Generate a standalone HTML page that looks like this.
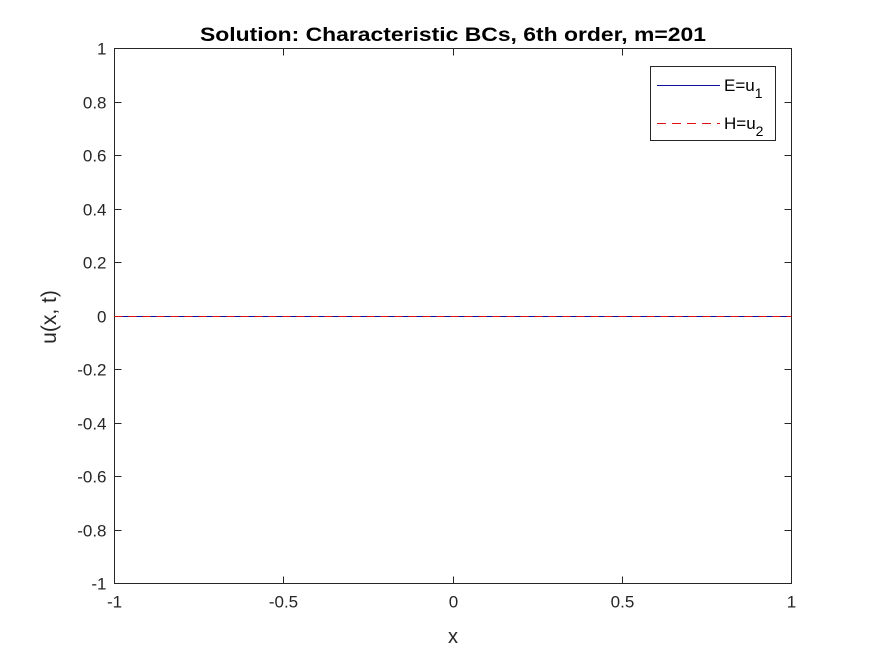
<!DOCTYPE html>
<html><head><meta charset="utf-8"><style>
html,body{margin:0;padding:0;background:#fff;}
svg text{font-family:"Liberation Sans",Arial,sans-serif;}
</style></head><body>
<svg id="chart" width="875" height="656" viewBox="0 0 875 656" xmlns="http://www.w3.org/2000/svg" shape-rendering="crispEdges">
<rect x="0" y="0" width="875" height="656" fill="#fff"/>
<g id="plot"></g>
</svg>
<script>
const xTicks = [-1, -0.5, 0, 0.5, 1];
const xTickLabels = ["-1", "-0.5", "0", "0.5", "1"];
const yTicks = [-1, -0.8, -0.6, -0.4, -0.2, 0, 0.2, 0.4, 0.6, 0.8, 1];
const yTickLabels = ["-1", "-0.8", "-0.6", "-0.4", "-0.2", "0", "0.2", "0.4", "0.6", "0.8", "1"];
const xData = [-1, -0.75, -0.5, -0.25, 0, 0.25, 0.5, 0.75, 1];
const seriesE = [0, 0, 0, 0, 0, 0, 0, 0, 0];
const seriesH = [0, 0, 0, 0, 0, 0, 0, 0, 0];

const L = 114.5, R = 791.5, T = 48.5, B = 583.5;
const xs = v => L + (v + 1) / 2 * (R - L);
const ys = v => B - (v + 1) / 2 * (B - T);
const NS = "http://www.w3.org/2000/svg";
const g = document.getElementById('plot');
function mk(tag, attrs, parent) {
  const e = document.createElementNS(NS, tag);
  for (const k in attrs) e.setAttribute(k, attrs[k]);
  (parent || g).appendChild(e);
  return e;
}
const box = mk('rect', {x: L, y: T, width: R - L, height: B - T, fill: 'none', stroke: '#262626', 'stroke-width': 1});


xTicks.forEach((v, i) => {
  const x = Math.round(xs(v) - 0.5) + 0.5;
  const t1 = mk('line', {x1: x, y1: B, x2: x, y2: B - 7, stroke: '#262626'});
  
  
  const t2 = mk('line', {x1: x, y1: T, x2: x, y2: T + 7, stroke: '#262626'});
  
  
  const tx = mk('text', {x: x, y: B + 24, 'text-anchor': 'middle', 'font-size': 17, fill: '#262626'});
  tx.textContent = xTickLabels[i];
  
  
});
yTicks.forEach((v, i) => {
  const y = Math.round(ys(v) - 0.5) + 0.5;
  const t1 = mk('line', {x1: L, y1: y, x2: L + 7, y2: y, stroke: '#262626'});
  
  
  const t2 = mk('line', {x1: R, y1: y, x2: R - 7, y2: y, stroke: '#262626'});
  
  
  const tx = mk('text', {x: L - 8, y: y + 6, 'text-anchor': 'end', 'font-size': 17, fill: '#262626'});
  tx.textContent = yTickLabels[i];
  
  
});
function path(data) {
  return data.map((v, i) => (i ? 'L' : 'M') + xs(xData[i]) + ',' + (Math.round(ys(v) - 0.5) + 0.5)).join(' ');
}
const pE = mk('path', {d: path(seriesE), fill: 'none', stroke: '#1010a0', 'stroke-width': 1.3});


const pH = mk('path', {d: path(seriesH), fill: 'none', stroke: '#e01010', 'stroke-width': 1.3, 'stroke-dasharray': '8,6'});


const title = mk('text', {x: 453, y: 41, 'text-anchor': 'middle', 'font-size': 19, 'font-weight': 'bold', fill: '#000', textLength: 506, lengthAdjust: 'spacingAndGlyphs'});
title.textContent = 'Solution: Characteristic BCs, 6th order, m=201';


const xl = mk('text', {x: 453, y: 643, 'text-anchor': 'middle', 'font-size': 20, fill: '#262626'});
xl.textContent = 'x';


const yl = mk('text', {x: 0, y: 0, 'text-anchor': 'middle', 'font-size': 21, fill: '#262626', transform: 'translate(56,317) rotate(-90)'});
yl.textContent = 'u(x, t)';


const lg = mk('g', {});


mk('rect', {x: 650.5, y: 66.5, width: 125, height: 74, fill: '#fff', stroke: '#262626'}, lg);
const le1 = mk('rect', {x: 657, y: 85, width: 63, height: 1, fill: '#1010a0', stroke: 'none'}, lg);


const t1 = mk('text', {x: 724, y: 91, 'font-size': 17, fill: '#000'}, lg);
t1.innerHTML = 'E=u<tspan font-size="14" dy="7">1</tspan>';


const le2 = mk('line', {x1: 657, y1: 123.5, x2: 720, y2: 123.5, stroke: '#e01010', 'stroke-width': 1, 'stroke-dasharray': '9,6'}, lg);


const t2 = mk('text', {x: 724, y: 129, 'font-size': 17, fill: '#000'}, lg);
t2.innerHTML = 'H=u<tspan font-size="14" dy="7">2</tspan>';


</script>
</body></html>
